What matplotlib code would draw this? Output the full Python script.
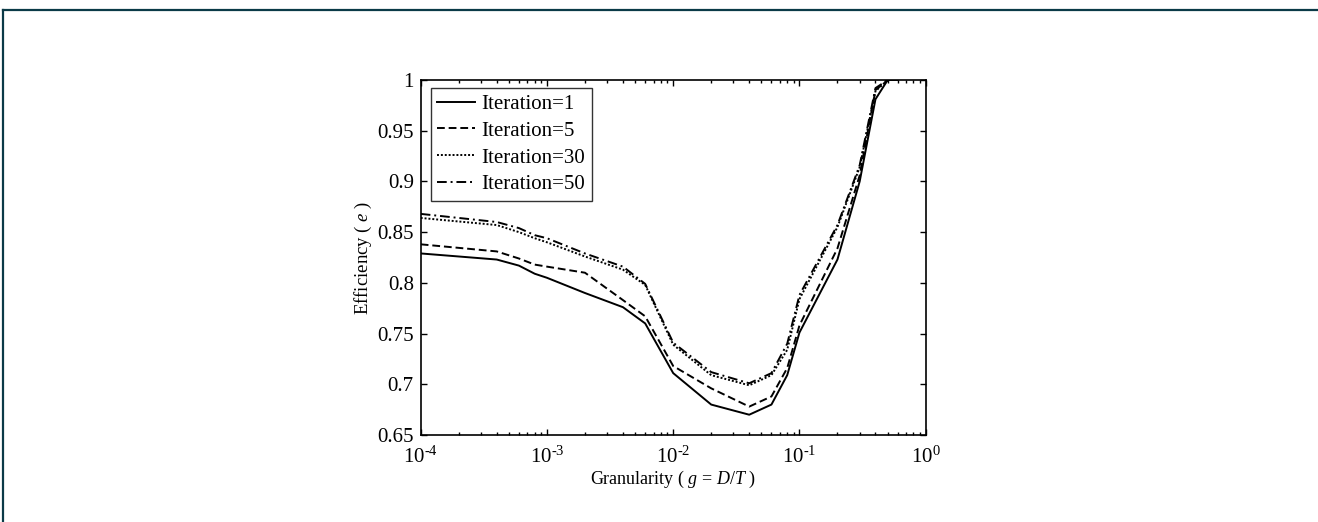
import numpy as np
import matplotlib
matplotlib.use("Agg")
import matplotlib.pyplot as plt
from matplotlib.lines import Line2D
from matplotlib.ticker import LogLocator, FixedLocator, FixedFormatter, FuncFormatter

plt.rcParams['font.family'] = ['Liberation Serif', 'DejaVu Serif']
plt.rcParams['mathtext.fontset'] = 'custom'
plt.rcParams['mathtext.rm'] = 'Liberation Serif'
plt.rcParams['mathtext.it'] = 'Liberation Serif:italic'

# granularity values g = D/T
g = [1e-4, 4e-4, 6e-4, 8e-4, 1e-3, 2e-3, 4e-3, 6e-3, 1e-2, 2e-2, 4e-2,
     6e-2, 8e-2, 1e-1, 2e-1, 3e-1, 4e-1, 5e-1, 6e-1]

# efficiency for each iteration count
eff_1 = [0.829, 0.823, 0.817, 0.809, 0.805, 0.790, 0.776, 0.760, 0.711, 0.680,
         0.670, 0.680, 0.709, 0.751, 0.823, 0.900, 0.981, 1.0, 1.0]
eff_5 = [0.838, 0.831, 0.824, 0.818, 0.816, 0.810, 0.783, 0.767, 0.718, 0.696,
         0.678, 0.688, 0.716, 0.758, 0.834, 0.906, 0.990, 1.0, 1.0]
eff_30 = [0.864, 0.857, 0.850, 0.844, 0.840, 0.826, 0.813, 0.798, 0.739, 0.709,
          0.699, 0.709, 0.734, 0.784, 0.855, 0.914, 0.989, 1.0, 1.0]
eff_50 = [0.868, 0.860, 0.854, 0.847, 0.844, 0.829, 0.816, 0.799, 0.741, 0.712,
          0.701, 0.711, 0.740, 0.788, 0.857, 0.916, 0.992, 1.0, 1.0]

labels = ['Iteration=1', 'Iteration=5', 'Iteration=30', 'Iteration=50']
yticks = [0.65, 0.7, 0.75, 0.8, 0.85, 0.9, 0.95, 1.0]
ytick_labels = ['0.65', '0.7', '0.75', '0.8', '0.85', '0.9', '0.95', '1']

fig = plt.figure(figsize=(13.18, 5.22), dpi=100)

# thin frame line at top and left of the picture
edge = '#0b3a47'
fig.add_artist(Line2D([3 / 1318, 1], [1 - 10 / 522] * 2, color=edge, lw=1.6,
                      transform=fig.transFigure))
fig.add_artist(Line2D([3 / 1318] * 2, [0, 1 - 10 / 522], color=edge, lw=1.6,
                      transform=fig.transFigure))

ax = fig.add_axes([420.7 / 1318, 87 / 522, 505 / 1318, 355 / 522])

styles = ['-', (0, (4, 2)), (0, (1, 1)), (0, (5, 2, 1, 2))]
for y, ls, lab in zip([eff_1, eff_5, eff_30, eff_50], styles, labels):
    ax.plot(g, y, color='black', lw=1.4, linestyle=ls, label=lab)

ax.set_xscale('log')
ax.set_xlim(1e-4, 1)
ax.set_ylim(0.65, 1.0)
ax.xaxis.set_major_locator(LogLocator(base=10, numticks=10))
ax.xaxis.set_minor_locator(LogLocator(base=10, subs=np.arange(2, 10), numticks=10))
ax.xaxis.set_major_formatter(FuncFormatter(
    lambda v, p: r'$10^{\text{%d}}$' % int(round(np.log10(v)))))
ax.yaxis.set_major_locator(FixedLocator(yticks))
ax.yaxis.set_major_formatter(FixedFormatter(ytick_labels))

ax.tick_params(which='both', direction='in', top=True, right=True, width=1.0)
ax.tick_params(which='major', length=4, labelsize=15, pad=5)
ax.tick_params(which='minor', length=2.5)
ax.tick_params(axis='x', which='major', pad=8)
for s in ax.spines.values():
    s.set_linewidth(1.2)

ax.set_xlabel(r'Granularity ( $g$ = $D/T$ )', fontsize=13, labelpad=1)
ax.set_ylabel(r'Efficiency ( $e$ )', fontsize=13.5, labelpad=2)

leg = ax.legend(loc='upper left', bbox_to_anchor=(10 / 505, 1 - 8 / 355),
                borderaxespad=0, fontsize=15, frameon=True, fancybox=False,
                handlelength=1.85, handletextpad=0.3, labelspacing=0.35,
                borderpad=0.3)
leg.get_frame().set_edgecolor('black')
leg.get_frame().set_linewidth(1.0)

fig.savefig('out.png', dpi=100)
